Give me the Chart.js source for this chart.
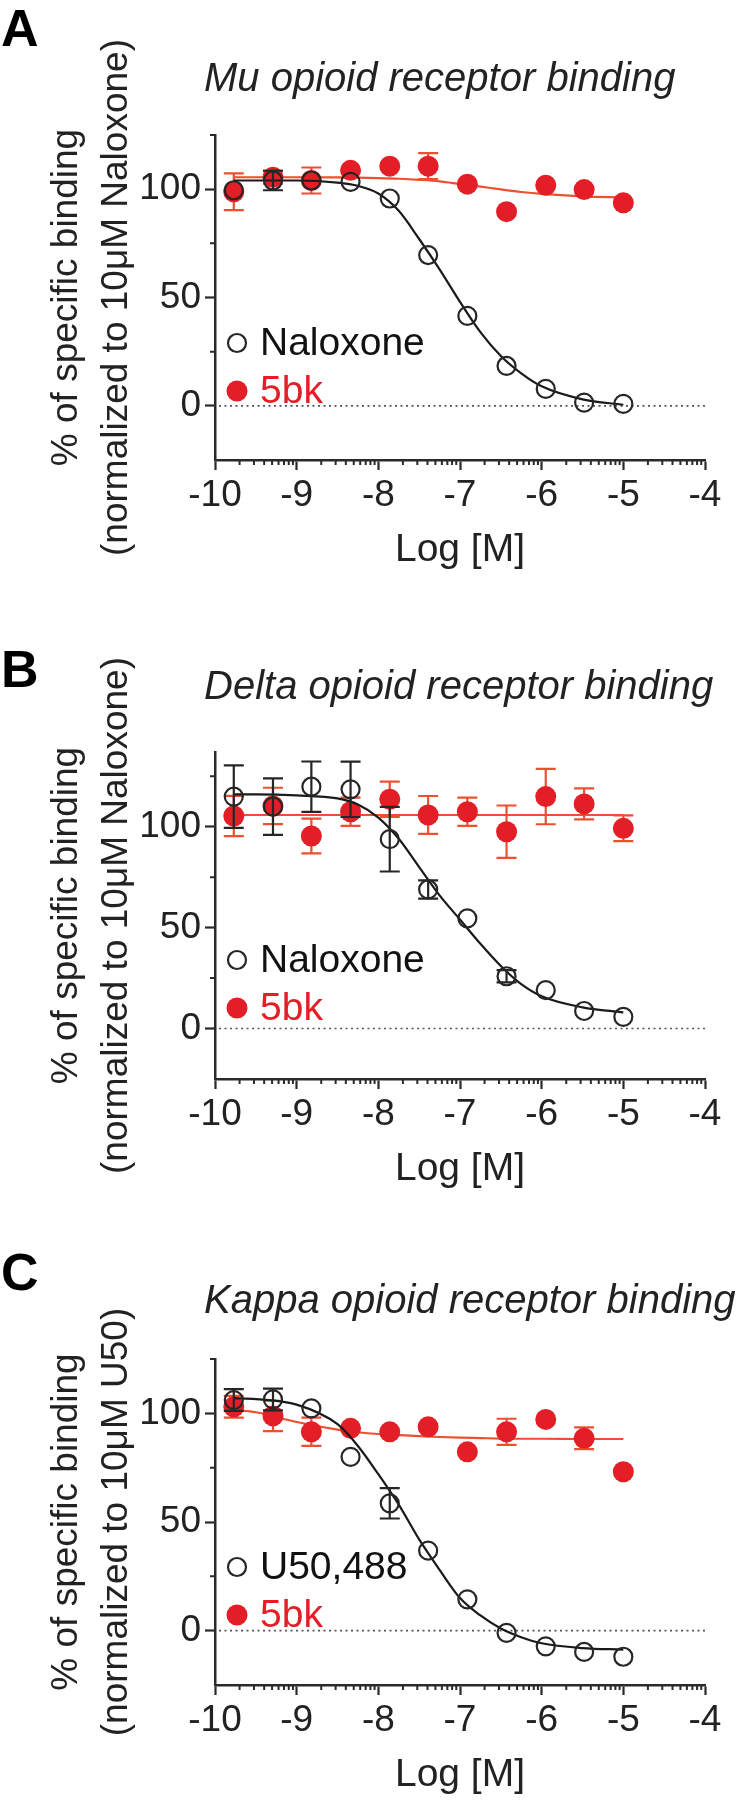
<!DOCTYPE html>
<html>
<head>
<meta charset="utf-8">
<script src="https://cdn.jsdelivr.net/npm/chart.js@4.4.1/dist/chart.umd.min.js"></script>
<style>
  html, body { margin: 0; padding: 0; background: #ffffff; }
  #wrap { position: relative; width: 736px; height: 1800px; }
  canvas { position: absolute; left: 0; }
</style>
</head>
<body>
<div id="wrap">
  <canvas id="panelA" width="736" height="600" style="top:0px"></canvas>
  <canvas id="panelB" width="736" height="600" style="top:600px"></canvas>
  <canvas id="panelC" width="736" height="600" style="top:1200px"></canvas>
</div>
<script>
// ---------- shared axis data ----------
const logConc = [-9.77, -9.29, -8.82, -8.34, -7.86, -7.39, -6.91, -6.43, -5.95, -5.48, -5.00];
const fitLogConc = [-9.77, -9.5, -9, -8.5, -8.25, -8, -7.75, -7.5, -7.25, -7, -6.75, -6.5, -6.25, -6, -5.5, -5];
const xTickValues = [-10, -9, -8, -7, -6, -5, -4];
const xTickLabels = ['-10', '-9', '-8', '-7', '-6', '-5', '-4'];
const yTickValues = [0, 50, 100];
const yTickLabels = ['0', '50', '100'];
const yMinorTickValues = [25, 75, 125];
const xAxisTitle = 'Log [M]';
const yAxisTitleLine1 = '% of specific binding';

// ---------- panel A : Mu ----------
const muTitle = 'Mu opioid receptor binding';
const muYTitle = '(normalized to 10\u03BCM Naloxone)';
const muRefName = 'Naloxone';
const muNaloxone = [99.5, 104, 104, 103.4, 95.7, 69.6, 41.5, 18.4, 7.8, 1.5, 0.9];
const muNaloxoneErr = [0, 4.5, 0, 0, 0, 0, 0, 0, 0, 0, 0];
const muNaloxoneFit = [104, 104, 104, 103, 101.5, 98, 90, 77, 63, 48, 34, 23, 15, 9, 3, 0.5];
const mu5bk = [98.8, 105.5, 104, 108.7, 110.6, 110.6, 102.3, 89.6, 101.8, 99.8, 93.7];
const mu5bkErr = [8.5, 3, 6, 0, 0, 6, 0, 0, 0, 0, 0];
const mu5bkFit = [105.5, 105.5, 105.5, 105.4, 105.3, 105.1, 104.8, 104.3, 103.6, 102.4, 101.2, 99.9, 98.7, 97.8, 96.7, 96.2];

// ---------- panel B : Delta ----------
const deltaTitle = 'Delta opioid receptor binding';
const deltaYTitle = '(normalized to 10\u03BCM Naloxone)';
const deltaRefName = 'Naloxone';
const deltaNaloxone = [114.9, 109.9, 119.8, 118.5, 93.8, 68.9, 54.6, 25.9, 19, 8.7, 5.8];
const deltaNaloxoneErr = [15.5, 14, 12.5, 13.7, 16, 4.5, 0, 3, 0, 0, 0];
const deltaNaloxoneFit = [116, 116, 115.5, 114, 111, 104.5, 94, 80, 66, 54, 42, 31, 22, 16, 10.5, 8];
const delta5bk = [105.3, 110.3, 95.4, 107.4, 113.6, 105.8, 107.4, 97.5, 114.9, 111.3, 99.2];
const delta5bkErr = [10, 9, 8.6, 7, 8.7, 9.4, 7, 13, 13.7, 7.7, 6.4];
const delta5bkFit = [105.8, 105.8, 105.8, 105.8, 105.8, 105.8, 105.8, 105.8, 105.8, 105.8, 105.8, 105.8, 105.8, 105.8, 105.8, 105.8];

// ---------- panel C : Kappa ----------
const kappaTitle = 'Kappa opioid receptor binding';
const kappaYTitle = '(normalized to 10\u03BCM U50)';
const kappaRefName = 'U50,488';
const kappaU50 = [106.1, 106.4, 102.3, 80, 58.6, 36.8, 14.4, -1, -7.2, -9.8, -12];
const kappaU50Err = [5, 5, 0, 0, 7, 0, 0, 0, 0, 0, 0];
const kappaU50Fit = [107, 106.5, 104, 95, 85, 72, 58, 42, 28, 15, 7, 1, -3, -5.8, -8, -8.7];
const kappa5bk = [103, 98.8, 91.5, 93.1, 91.5, 93.8, 82.3, 91.5, 97.2, 88.5, 73.1];
const kappa5bkErr = [5, 7, 6.5, 0, 0, 0, 0, 6, 0, 5, 0];
const kappa5bkFit = [101.5, 100.5, 96, 92.5, 91.3, 90.5, 90, 89.5, 89.1, 88.8, 88.6, 88.4, 88.3, 88.3, 88.2, 88.2];

const testName = '5bk';

// ---------- style ----------
const FONT = '"Liberation Sans", Arial, Helvetica, sans-serif';
const INK = '#222222';
const AXIS = '#2a2a2a';
const RED = '#E41E26';
const RED_LINE = '#EE4F2F';

const decorPlugin = {
  id: 'decor',
  beforeDatasetsDraw(chart) {
    const { ctx, chartArea, scales: { x, y } } = chart;
    const y0 = y.getPixelForValue(0);
    ctx.save();
    ctx.setLineDash([2, 3.5]);
    ctx.strokeStyle = '#555';
    ctx.lineWidth = 1.6;
    ctx.beginPath();
    ctx.moveTo(chartArea.left + 4, y0);
    ctx.lineTo(chartArea.right, y0);
    ctx.stroke();
    ctx.restore();
  },
  beforeDatasetDraw(chart, args) {
    const ds = chart.data.datasets[args.index];
    if (!ds.errors) return;
    const { ctx, scales: { x, y } } = chart;
    ctx.save();
    ctx.strokeStyle = ds.errorColor;
    ctx.lineWidth = 2.2;
    ds.data.forEach((p, i) => {
      const e = ds.errors[i];
      if (!e) return;
      const px = x.getPixelForValue(p.x);
      const pt = y.getPixelForValue(p.y + e);
      const pb = y.getPixelForValue(p.y - e);
      ctx.beginPath();
      ctx.moveTo(px, pt); ctx.lineTo(px, pb);
      ctx.moveTo(px - 10, pt); ctx.lineTo(px + 10, pt);
      ctx.moveTo(px - 10, pb); ctx.lineTo(px + 10, pb);
      ctx.stroke();
    });
    ctx.restore();
  },
  afterDraw(chart, args, o) {
    const { ctx, chartArea, scales: { x, y } } = chart;
    ctx.save();
    // minor ticks
    ctx.strokeStyle = AXIS;
    ctx.lineWidth = 2;
    ctx.beginPath();
    yMinorTickValues.forEach(v => {
      if (v > y.max) return;
      const py = y.getPixelForValue(v);
      ctx.moveTo(chartArea.left, py); ctx.lineTo(chartArea.left - 5, py);
    });
    for (let n = -10; n < -4; n++) {
      for (let k = 2; k <= 9; k++) {
        const px = x.getPixelForValue(n + Math.log10(k));
        ctx.moveTo(px, chartArea.bottom); ctx.lineTo(px, chartArea.bottom + 5);
      }
    }
    ctx.stroke();
    // panel letter
    ctx.fillStyle = '#000';
    ctx.font = 'bold 52px ' + FONT;
    ctx.textBaseline = 'alphabetic';
    ctx.textAlign = 'left';
    ctx.fillText(o.letter, 1, o.letterBaseline);
    // panel title
    ctx.fillStyle = INK;
    ctx.font = 'italic 40px ' + FONT;
    ctx.fillText(o.title, 204, o.titleBaseline);
    // legend
    ctx.font = '39px ' + FONT;
    ctx.textBaseline = 'middle';
    o.legend.forEach((item, i) => {
      const cy = chartArea.top + 208 + i * 48;
      const cx = chartArea.left + 22;
      ctx.beginPath();
      if (item.filled) {
        ctx.fillStyle = item.color;
        ctx.arc(cx, cy, 10.5, 0, Math.PI * 2);
        ctx.fill();
      } else {
        ctx.strokeStyle = '#262626';
        ctx.lineWidth = 2.2;
        ctx.arc(cx, cy, 9, 0, Math.PI * 2);
        ctx.stroke();
      }
      ctx.fillStyle = item.textColor;
      ctx.fillText(item.label, chartArea.left + 45, cy + 1);
    });
    ctx.restore();
  }
};

function toPoints(xs, ys) {
  return xs.map((xv, i) => ({ x: xv, y: ys[i] }));
}

function buildPanel(id, p) {
  return new Chart(document.getElementById(id), {
    type: 'scatter',
    data: {
      datasets: [
        {
          label: p.refName,
          data: toPoints(logConc, p.refVals),
          errors: p.refErr,
          errorColor: '#262626',
          pointRadius: 9,
          pointBorderWidth: 2.2,
          pointBorderColor: '#262626',
          pointBackgroundColor: 'rgba(255,255,255,0)',
          clip: false,
          order: 1
        },
        {
          label: p.refName + ' fit',
          data: toPoints(fitLogConc, p.refFit),
          showLine: true,
          borderColor: '#1a1a1a',
          borderWidth: 2.2,
          pointRadius: 0,
          cubicInterpolationMode: 'monotone',
          order: 2
        },
        {
          label: testName,
          data: toPoints(logConc, p.bkVals),
          errors: p.bkErr,
          errorColor: RED_LINE,
          pointRadius: 10.5,
          pointBorderWidth: 0,
          pointBorderColor: RED,
          pointBackgroundColor: RED,
          clip: false,
          order: 3
        },
        {
          label: testName + ' fit',
          data: toPoints(fitLogConc, p.bkFit),
          showLine: true,
          borderColor: RED_LINE,
          borderWidth: 2.2,
          pointRadius: 0,
          cubicInterpolationMode: 'monotone',
          order: 4
        }
      ]
    },
    options: {
      responsive: false,
      animation: false,
      events: [],
      layout: { padding: { left: 0, right: 31, top: p.padTop, bottom: p.padBottom } },
      plugins: {
        legend: { display: false },
        tooltip: { enabled: false },
        decor: {
          letter: p.letter,
          letterBaseline: p.letterBaseline,
          title: p.title,
          titleBaseline: p.titleBaseline,
          legend: [
            { label: p.refName, filled: false, color: '#262626', textColor: '#111' },
            { label: testName, filled: true, color: RED, textColor: RED }
          ]
        }
      },
      scales: {
        x: {
          type: 'linear',
          min: -10,
          max: -4,
          afterBuildTicks: (axis) => { axis.ticks = xTickValues.map(v => ({ value: v })); },
          afterFit: (axis) => { axis.height = 114; },
          ticks: {
            padding: 4,
            color: INK,
            font: { size: 37, family: FONT },
            maxRotation: 0,
            autoSkip: false,
            callback: (v) => xTickLabels[xTickValues.indexOf(v)]
          },
          grid: { display: true, drawOnChartArea: false, drawTicks: true, tickLength: 10, tickWidth: 2.2, tickColor: AXIS },
          border: { display: true, color: AXIS, width: 2.5 },
          title: { display: true, text: xAxisTitle, color: INK, font: { size: 39, family: FONT }, padding: { top: 0, bottom: 0 } }
        },
        y: {
          type: 'linear',
          min: p.yMin,
          max: p.yMax,
          afterBuildTicks: (axis) => { axis.ticks = yTickValues.map(v => ({ value: v })); },
          afterFit: (axis) => { axis.width = 215; },
          ticks: {
            padding: 4,
            color: INK,
            font: { size: 37, family: FONT },
            autoSkip: false,
            callback: (v) => yTickLabels[yTickValues.indexOf(v)]
          },
          grid: { display: true, drawOnChartArea: false, drawTicks: true, tickLength: 10, tickWidth: 2.2, tickColor: AXIS },
          border: { display: true, color: AXIS, width: 2.5 },
          title: {
            display: true,
            text: [yAxisTitleLine1, p.yTitle],
            color: INK,
            font: { size: 37, family: FONT, lineHeight: 1.35 },
            padding: { top: 42, bottom: 0 }
          }
        }
      }
    },
    plugins: [decorPlugin]
  });
}

buildPanel('panelA', {
  letter: 'A', letterBaseline: 46, title: muTitle, titleBaseline: 91, yTitle: muYTitle,
  refName: muRefName, refVals: muNaloxone, refErr: muNaloxoneErr, refFit: muNaloxoneFit,
  bkVals: mu5bk, bkErr: mu5bkErr, bkFit: mu5bkFit,
  yMin: -25, yMax: 125, padTop: 135, padBottom: 26
});
buildPanel('panelB', {
  letter: 'B', letterBaseline: 87, title: deltaTitle, titleBaseline: 99, yTitle: deltaYTitle,
  refName: deltaRefName, refVals: deltaNaloxone, refErr: deltaNaloxoneErr, refFit: deltaNaloxoneFit,
  bkVals: delta5bk, bkErr: delta5bkErr, bkFit: delta5bkFit,
  yMin: -25, yMax: 137, padTop: 152, padBottom: 7
});
buildPanel('panelC', {
  letter: 'C', letterBaseline: 90, title: kappaTitle, titleBaseline: 113, yTitle: kappaYTitle,
  refName: kappaRefName, refVals: kappaU50, refErr: kappaU50Err, refFit: kappaU50Fit,
  bkVals: kappa5bk, bkErr: kappa5bkErr, bkFit: kappa5bkFit,
  yMin: -25, yMax: 125, padTop: 159, padBottom: 1
});
</script>
</body>
</html>
